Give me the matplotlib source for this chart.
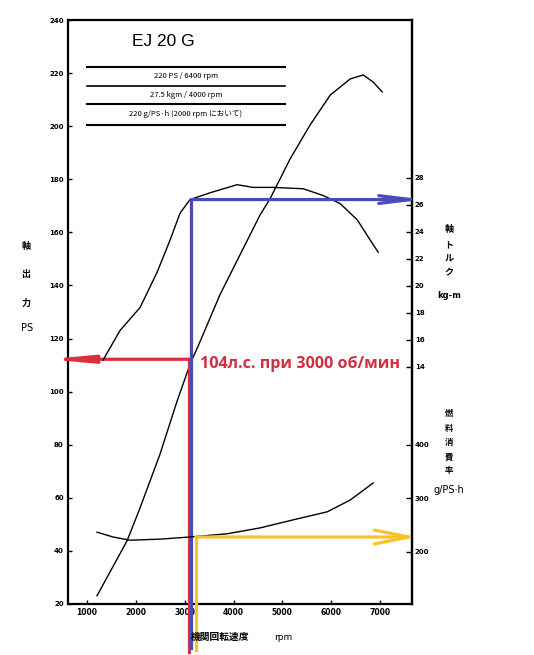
import matplotlib
matplotlib.use('Agg')
import matplotlib.pyplot as plt
from matplotlib.lines import Line2D
import numpy as np

# power curve (PS)
ps_rpm = [1205, 1820, 2086, 2496, 2844, 3111, 3316, 3725, 4135, 4545, 4750,
          5160, 5570, 5980, 6389, 6656, 6861, 7045]
ps_val = [23.1, 43.8, 56.2, 76.5, 96.4, 110.3, 118.9, 136.6, 151.6, 166.6, 172.7,
          187.7, 200.5, 211.7, 217.8, 219.3, 216.6, 212.9]

# torque curve (kg-m)
tq_rpm = [1328, 1676, 2086, 2434, 2701, 2906, 3111, 3520, 4074, 4402, 4811,
          5426, 5836, 6184, 6533, 6799, 6963]
tq_val = [14.5, 16.7, 18.4, 21.0, 23.4, 25.4, 26.4, 26.9, 27.5, 27.3, 27.3,
          27.2, 26.7, 26.1, 24.9, 23.4, 22.5]

# fuel consumption (g/PS-h)
fc_rpm = [1205, 1533, 1881, 2496, 3111, 3869, 4545, 5221, 5918, 6389, 6861]
fc_val = [237, 228, 222, 224, 228, 234, 245, 260, 275, 297, 329]

x_ticks = [1000, 2000, 3000, 4000, 5000, 6000, 7000]
ps_ticks = list(range(20, 241, 20))
tq_ticks = [14, 16, 18, 20, 22, 24, 26, 28]
fc_ticks = [200, 300, 400]

# marked point
red_rpm, red_ps = 3090, 112.2
blue_rpm, blue_tq = 3130, 26.4
yel_rpm, yel_fc = 3230, 228

spec_lines = ['220 PS / 6400 rpm', '27.5 kgm / 4000 rpm', '220 g/PS·h (2000 rpm において)']

plt.rcParams['font.family'] = ['DejaVu Sans', 'Noto Sans CJK JP']
jp = ['Noto Sans CJK JP', 'DejaVu Sans']

W, H = 534, 655
fig = plt.figure(figsize=(W / 100, H / 100), dpi=100)

def fx(x):
    return x / W

def fy(y):
    return 1 - y / H

L, R, T, B = 68, 412, 20, 604
ax = fig.add_axes([fx(L), fy(B), (R - L) / W, (B - T) / H])
ax.set_xlim(611, 7655)
ax.set_ylim(20, 240)
ax_t = ax.twinx()
ax_t.set_ylim(-3.56, 39.7)
ax_f = ax.twinx()
ax_f.set_ylim(102.8, 1194)

ax.plot(ps_rpm, ps_val, color='black', lw=1.0)
ax_t.plot(tq_rpm, tq_val, color='black', lw=1.0)
ax_f.plot(fc_rpm, fc_val, color='black', lw=1.0)

ax.set_xticks(x_ticks)
ax.set_xticklabels([str(v) for v in x_ticks], fontsize=5.5, fontweight='bold')
ax.set_yticks(ps_ticks)
ax.set_yticklabels([str(v) for v in ps_ticks], fontsize=5, fontweight='bold')
ax.tick_params(direction='in', length=3, width=1, pad=3)
for a, tk in [(ax_t, tq_ticks), (ax_f, fc_ticks)]:
    a.set_yticks(tk)
    a.set_yticklabels([str(v) for v in tk], fontsize=5, fontweight='bold')
    a.tick_params(direction='in', length=4, width=1, pad=2)
    for s in ['top', 'bottom', 'left']:
        a.spines[s].set_visible(False)
for s in ax.spines.values():
    s.set_linewidth(1.6)
ax_t.spines['right'].set_linewidth(1.6)
ax_f.spines['right'].set_visible(False)

lw_mark = 2.3
# red marker
ax.plot([red_rpm, red_rpm], [red_ps, 2], color='#d8303c', lw=lw_mark, clip_on=False, zorder=5)
ax.annotate('', xy=(200, red_ps), xytext=(red_rpm, red_ps), annotation_clip=False,
            arrowprops=dict(arrowstyle='-|>,head_length=2.4,head_width=0.22',
                            color='#d8303c', lw=lw_mark, shrinkA=0, shrinkB=0), zorder=5)
# blue marker
ax_t.plot([blue_rpm, blue_rpm], [blue_tq, -6.8], color='#4a4ab8', lw=lw_mark, clip_on=False, zorder=4)
ax_t.annotate('', xy=(7900, blue_tq), xytext=(blue_rpm, blue_tq), annotation_clip=False,
              arrowprops=dict(arrowstyle='->,head_length=2.3,head_width=0.28',
                              color='#4a4ab8', lw=lw_mark, shrinkA=0, shrinkB=0), zorder=4)
# yellow marker
ax_f.plot([yel_rpm, yel_rpm], [yel_fc, 17], color='#f5c42c', lw=lw_mark, clip_on=False, zorder=4)
ax_f.annotate('', xy=(7760, yel_fc), xytext=(yel_rpm, yel_fc), annotation_clip=False,
              arrowprops=dict(arrowstyle='->,head_length=2.5,head_width=0.5',
                              color='#f5c42c', lw=lw_mark, shrinkA=0, shrinkB=0), zorder=4)

fig.text(fx(200), fy(364), '104л.с. при 3000 об/мин', color='#d03040', fontsize=11.6,
         fontweight='bold', family=['Open Sans', 'DejaVu Sans'], va='center', ha='left')

# title block
fig.text(fx(132), fy(42), 'EJ 20 G', fontsize=12.5, family=['Liberation Sans'], va='center')
for yy, w in [(67, 1.5), (86, 1.2), (104, 1.5), (125, 1.5)]:
    fig.add_artist(Line2D([fx(87), fx(285)], [fy(yy), fy(yy)], color='black', lw=w))
for yy, s in zip([76, 95, 114], spec_lines):
    fig.text(fx(186), fy(yy), s, fontsize=5.5, ha='center', va='center', family=jp)

# axis labels
for yy, s in zip([247, 275, 303], ['軸', '出', '力']):
    fig.text(fx(26), fy(yy), s, fontsize=6.5, ha='center', va='center', family=jp, fontweight='bold')
fig.text(fx(27), fy(328), 'PS', fontsize=7, ha='center', va='center')
for yy, s in zip([230, 245, 259, 273], ['軸', 'ト', 'ル', 'ク']):
    fig.text(fx(449), fy(yy), s, fontsize=6.5, ha='center', va='center', family=jp, fontweight='bold')
fig.text(fx(449), fy(296), 'kg-m', fontsize=6, ha='center', va='center', fontweight='bold')
for yy, s in zip([413, 428, 443, 457, 471], ['燃', '料', '消', '費', '率']):
    fig.text(fx(449), fy(yy), s, fontsize=6, ha='center', va='center', family=jp, fontweight='bold')
fig.text(fx(449), fy(490), 'g/PS·h', fontsize=7, ha='center', va='center')
fig.text(fx(220), fy(637), '機関回転速度', fontsize=7, ha='center', va='center', family=jp, fontweight='bold')
fig.text(fx(283), fy(637), 'rpm', fontsize=6.5, ha='center', va='center')

fig.savefig('out.png', dpi=100, facecolor='white')
